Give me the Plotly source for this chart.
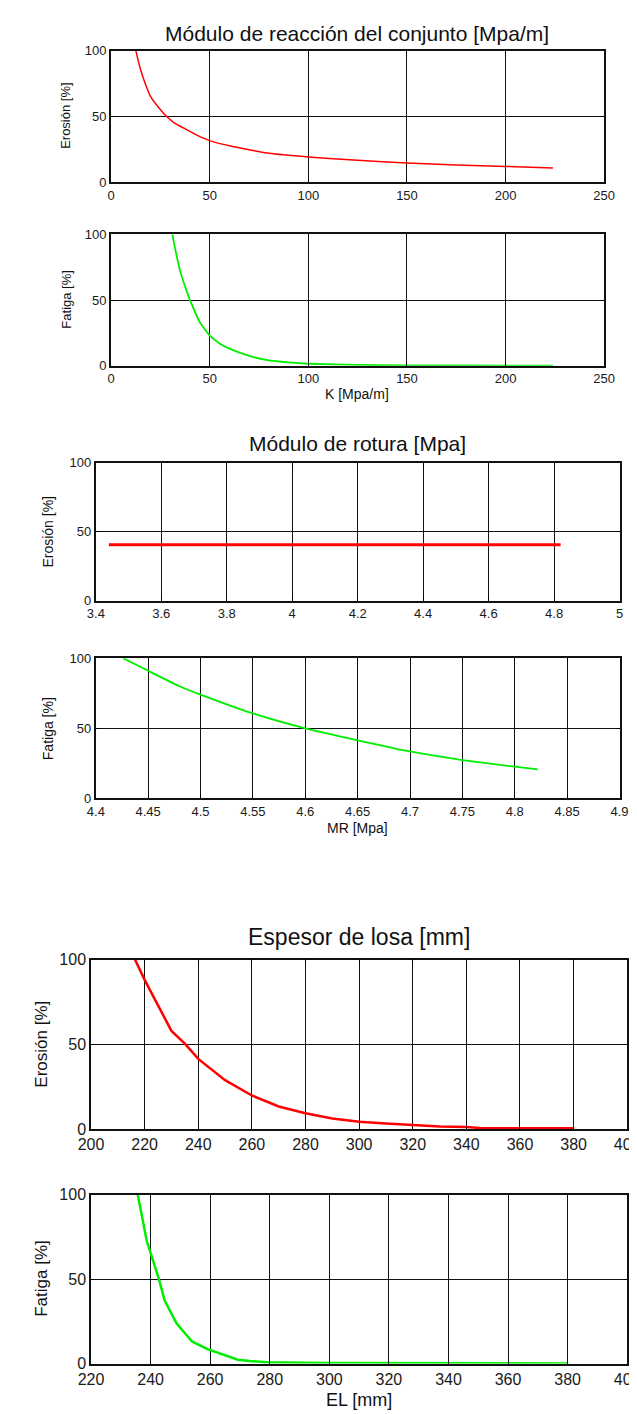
import plotly.graph_objects as go

W, H = 637, 1414

# ---- data ----
k_ero = [12.5, 15, 17.5, 20, 25, 28, 32, 38, 45, 50, 60, 70, 80, 100, 125, 150, 175, 200, 224]
ero_k = [100, 85, 74, 65, 55, 50, 45, 40, 34.5, 31.5, 27.5, 24.5, 21.8, 19, 16.5, 14.5, 13, 11.8, 10.7]

k_fat = [31, 33, 35, 38, 40, 45, 50, 55, 60, 70, 80, 90, 100, 125, 150, 200, 224]
fat_k = [100, 85, 72, 58, 50, 33, 23, 17, 13, 7.5, 4, 2.5, 1.5, 0.6, 0.3, 0.1, 0.05]

mr_ero = [3.44, 4.82]
ero_mr = [40.5, 40.5]

mr_fat = [4.426, 4.45, 4.48, 4.5, 4.55, 4.6, 4.65, 4.7, 4.75, 4.8, 4.822]
fat_mr = [100, 91, 80, 74, 60.6, 50, 41.5, 33.5, 27.4, 22.7, 20.8]

el_ero = [216.4, 220, 225, 230, 235, 240, 250, 260, 270, 280, 290, 300, 310, 320, 330, 340, 345, 360, 380]
ero_el = [100, 88, 73, 58, 50.5, 41.5, 29, 20, 13.5, 9.5, 6.5, 4.5, 3.5, 2.5, 1.8, 1.5, 0.8, 0.7, 0.7]

el_fat = [235.7, 238.7, 242.7, 244.7, 248.7, 253.9, 259.1, 264, 269.3, 273.3, 279, 298, 380]
fat_el = [100, 72.7, 50.6, 37.5, 23.8, 13.1, 8.6, 5.5, 2.3, 1.5, 0.8, 0.3, 0.1]

ticks_k = [0, 50, 100, 150, 200, 250]
ticks_mr1 = [3.4, 3.6, 3.8, 4, 4.2, 4.4, 4.6, 4.8, 5]
ticks_mr1_txt = ["3.4", "3.6", "3.8", "4", "4.2", "4.4", "4.6", "4.8", "5"]
ticks_mr2 = [4.4, 4.45, 4.5, 4.55, 4.6, 4.65, 4.7, 4.75, 4.8, 4.85, 4.9]
ticks_mr2_txt = ["4.4", "4.45", "4.5", "4.55", "4.6", "4.65", "4.7", "4.75", "4.8", "4.85", "4.9"]
ticks_el1 = [200, 220, 240, 260, 280, 300, 320, 340, 360, 380, 400]
ticks_el2 = [220, 240, 260, 280, 300, 320, 340, 360, 380, 400]
ticks_pct = [0, 50, 100]

FONT = "Liberation Sans, Arial, sans-serif"


def px(x):
    return x / W


def py(y):
    return 1 - y / H


fig = go.Figure()

panels = [
    # xs, ys, color, line width, shape, x px span, y px span (top,bottom), x range, ticks, tick text, tick font, axis lw, grid lw
    (k_ero, ero_k, "#ff0000", 1.5, "spline", (94, 608), (35, 168), [0, 250], ticks_k, None, 13, 2, 1.3),
    (k_fat, fat_k, "#00ee00", 1.8, "spline", (94, 608), (221, 354), [0, 250], ticks_k, None, 13, 2, 1.3),
    (mr_ero, ero_mr, "#ff0000", 3, "linear", (78, 624), (452, 592), [3.4, 5], ticks_mr1, ticks_mr1_txt, 13, 2, 1.3),
    (mr_fat, fat_mr, "#00ee00", 1.8, "spline", (78, 624), (650, 792), [4.4, 4.9], ticks_mr2, ticks_mr2_txt, 13, 2, 1.3),
    (el_ero, ero_el, "#ff0000", 2.5, "linear", (73, 632), (955, 1127), [200, 400], ticks_el1, None, 16, 1.5, 1),
    (el_fat, fat_el, "#00ee00", 2.5, "linear", (73, 632), (1193, 1364), [220, 400], ticks_el2, None, 16, 1.5, 1),
]

layout = {}
for i, (xs, ys, col, lw, shp, xd, yd, xr, xt, xtt, fs, alw, glw) in enumerate(panels, start=1):
    sfx = "" if i == 1 else str(i)
    line = dict(color=col, width=lw, shape=shp)
    if shp == "spline":
        line["smoothing"] = 0.5
    fig.add_trace(go.Scatter(x=xs, y=ys, mode="lines", line=line,
                             xaxis="x" + sfx, yaxis="y" + sfx, showlegend=False))
    common = dict(showline=True, linecolor="#111", linewidth=alw, mirror="allticks",
                  ticks="inside", ticklen=3, tickcolor="black",
                  showgrid=True, gridcolor="#111", gridwidth=glw, zeroline=False,
                  tickfont=dict(family=FONT, size=fs, color="#1a1a1a"))
    layout["xaxis" + sfx] = dict(domain=[px(xd[0]), px(xd[1])], range=xr, anchor="y" + sfx,
                                 tickvals=xt, ticktext=xtt if xtt else [str(v) for v in xt], **common)
    layout["yaxis" + sfx] = dict(domain=[py(yd[1]), py(yd[0])], range=[0, 100], anchor="x" + sfx,
                                 tickvals=ticks_pct, **common)

fig.update_layout(**layout)

anns = [
    ("Módulo de reacción del conjunto [Mpa/m]", 350, 18, 21, 0),
    ("Módulo de rotura [Mpa]", 351, 433, 21, 0),
    ("Espesor de losa [mm]", 352, 932, 23, 0),
    ("K [Mpa/m]", 350, 383, 14, 0),
    ("MR [Mpa]", 351, 822, 14, 0),
    ("EL [mm]", 352, 1401, 18, 0),
    ("Erosión [%]", 47, 101, 13, -90),
    ("Fatiga [%]", 47, 287, 13, -90),
    ("Erosión [%]", 28, 522, 14, -90),
    ("Fatiga [%]", 28, 721, 14, -90),
    ("Erosión [%]", 21, 1041, 17, -90),
    ("Fatiga [%]", 21, 1278, 17, -90),
]
for txt, x, y, fs, ang in anns:
    fig.add_annotation(text=txt, x=px(x), y=py(y), xref="paper", yref="paper",
                       xanchor="center", yanchor="middle", showarrow=False, textangle=ang,
                       font=dict(family=FONT, size=fs, color="#111"))

fig.update_layout(width=W, height=H, margin=dict(l=0, r=0, t=0, b=0),
                  paper_bgcolor="white", plot_bgcolor="white")

fig.write_html("out.html")
